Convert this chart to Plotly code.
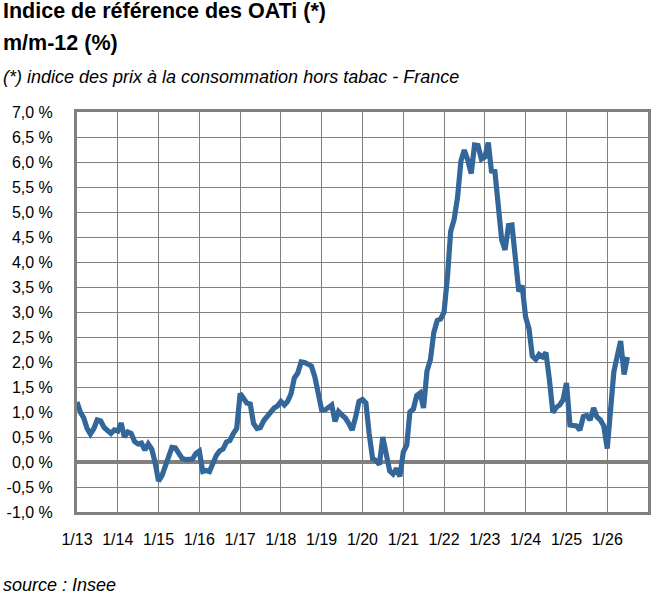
import pandas as pd
import plotly.graph_objects as go

# Monthly year-on-year change (%) of the OATi reference index, Jan 2013 onwards
values_2013 = [1.2, 0.99, 0.89, 0.67, 0.56, 0.67, 0.84, 0.82, 0.69, 0.63, 0.57, 0.64]
values_2014 = [0.62, 0.78, 0.5, 0.6, 0.57, 0.41, 0.36, 0.38, 0.24, 0.36, 0.26, 0.0]
values_2015 = [-0.38, -0.27, -0.1, 0.09, 0.29, 0.28, 0.18, 0.07, 0.05, 0.05, 0.06, 0.17]
values_2016 = [0.22, -0.19, -0.17, -0.19, 0.0, 0.13, 0.22, 0.26, 0.4, 0.43, 0.57, 0.67]
values_2017 = [1.37, 1.26, 1.18, 1.16, 0.77, 0.67, 0.69, 0.83, 0.92, 1.0, 1.08, 1.12]
values_2018 = [1.21, 1.14, 1.21, 1.36, 1.68, 1.78, 2.0, 1.99, 1.96, 1.92, 1.7, 1.41]
values_2019 = [1.04, 1.04, 1.08, 1.14, 0.81, 1.01, 0.94, 0.88, 0.77, 0.64, 0.9, 1.21]
values_2020 = [1.25, 1.18, 0.57, 0.07, 0.03, -0.05, 0.5, 0.1, -0.18, -0.24, -0.13, -0.29]
values_2021 = [0.2, 0.34, 1.0, 1.06, 1.33, 1.38, 1.08, 1.82, 2.05, 2.59, 2.83, 2.86]
values_2022 = [3.0, 3.73, 4.61, 4.85, 5.28, 6.02, 6.24, 6.04, 5.77, 6.34, 6.33, 6.06]
values_2023 = [6.1, 6.39, 5.82, 5.81, 5.08, 4.44, 4.24, 4.73, 4.74, 4.0, 3.41, 3.53]
values_2024 = [2.9, 2.66, 2.12, 2.05, 2.15, 2.1, 2.19, 1.65, 0.99, 1.09, 1.14, 1.24]
values_2025 = [1.58, 0.74, 0.72, 0.72, 0.64, 0.91, 0.93, 0.84, 1.08, 0.9, 0.84, 0.72]
values_2026 = [0.27, 1.0, 1.8, 2.12, 2.42, 1.75, 2.1]

values = (values_2013 + values_2014 + values_2015 + values_2016 + values_2017
          + values_2018 + values_2019 + values_2020 + values_2021 + values_2022
          + values_2023 + values_2024 + values_2025 + values_2026)
dates = pd.date_range("2013-01-01", periods=len(values), freq="MS")

x_tick_years = list(range(2013, 2027))
x_tick_labels = ["1/%02d" % (y % 100) for y in x_tick_years]
y_tick_vals = [i * 0.5 for i in range(-2, 15)]
y_tick_labels = [("%.1f" % v).replace(".", ",") + " %" for v in y_tick_vals]

title_text = "Indice de référence des OATi (*)"
subtitle_text = "m/m-12 (%)"
note_text = "(*) indice des prix à la consommation hors tabac - France"
source_text = "source : Insee"

GRID = "#808080"
FONT = "Liberation Sans, Arial, sans-serif"

# plot area wanted at x 77..648, y 112..512
L, R, T, B = 77, 9, 112, 89
PW = 657 - L - R
PH = 601 - T - B

fig = go.Figure()
fig.add_trace(go.Scatter(
    x=dates, y=values, mode="lines",
    line=dict(color="#336699", width=5.2),
    hoverinfo="skip", showlegend=False,
))

fig.update_layout(
    width=657, height=601,
    margin=dict(l=L, r=R, t=T, b=B),
    paper_bgcolor="white", plot_bgcolor="white",
    font=dict(family=FONT, color="black", size=16),
    showlegend=False,
)
fig.update_xaxes(
    type="date",
    range=["2013-01-01", "2027-01-01"],
    tickvals=[pd.Timestamp("%d-01-01" % y) for y in x_tick_years],
    ticktext=x_tick_labels,
    tickfont=dict(size=16),
    showgrid=True, gridcolor=GRID, gridwidth=1.3,
    showline=True, linecolor=GRID, linewidth=3, mirror=True,
    ticks="", ticklabelstandoff=11,
    zeroline=False, automargin=False,
)
fig.update_yaxes(
    range=[-1.0, 7.0],
    tickvals=y_tick_vals, ticktext=y_tick_labels,
    tickfont=dict(size=16),
    showgrid=True, gridcolor=GRID, gridwidth=1.3,
    showline=True, linecolor=GRID, linewidth=3, mirror=True,
    zeroline=True, zerolinecolor=GRID, zerolinewidth=4,
    ticks="", ticklabelstandoff=18, automargin=False,
)

def px_x(px):
    return (px - L) / float(PW)

def px_y(py):
    return (601 - B - py) / float(PH)

fig.add_annotation(text="<b>" + title_text + "</b>", xref="paper", yref="paper",
                   x=px_x(1), y=px_y(11), xanchor="left", yanchor="middle",
                   showarrow=False, font=dict(size=21.5, family=FONT))
fig.add_annotation(text="<b>" + subtitle_text + "</b>", xref="paper", yref="paper",
                   x=px_x(1), y=px_y(43), xanchor="left", yanchor="middle",
                   showarrow=False, font=dict(size=21.5, family=FONT))
fig.add_annotation(text="<i>" + note_text + "</i>", xref="paper", yref="paper",
                   x=px_x(1), y=px_y(77), xanchor="left", yanchor="middle",
                   showarrow=False, font=dict(size=18, family=FONT))
fig.add_annotation(text="<i>" + source_text + "</i>", xref="paper", yref="paper",
                   x=px_x(1), y=px_y(585), xanchor="left", yanchor="middle",
                   showarrow=False, font=dict(size=18, family=FONT))

# remove the browser's default 8px body margin so the figure sits at the page corner
fig.write_html("out.html", config={"displayModeBar": False},
               post_script="document.body.style.margin='0';")
